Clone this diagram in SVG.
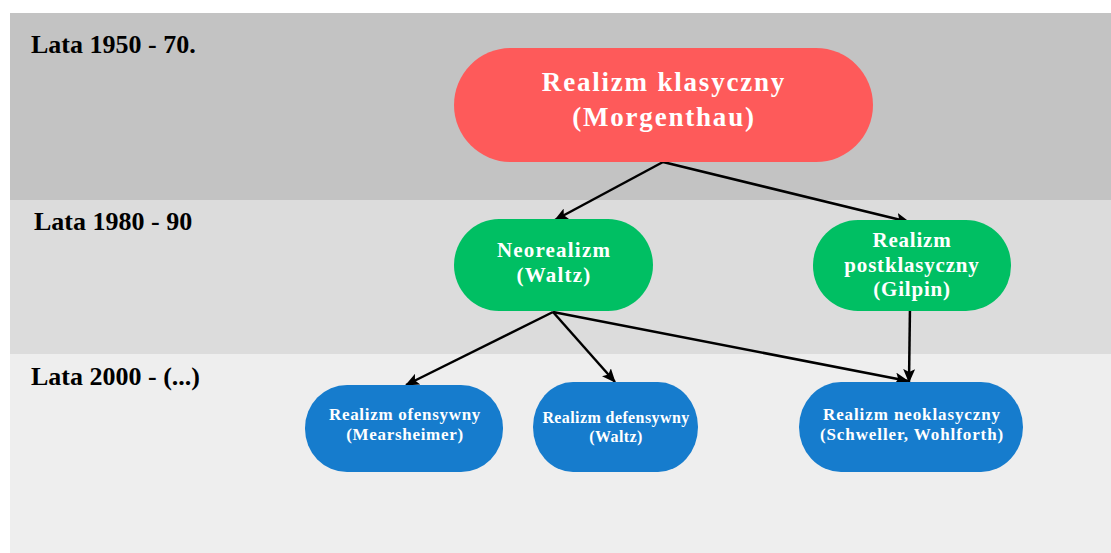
<svg xmlns="http://www.w3.org/2000/svg" width="1111" height="553" viewBox="0 0 1111 553">
<style>
.lbl{font-family:"Liberation Serif","Times New Roman",serif;font-weight:bold;font-size:26px;fill:#000}
.t{font-family:"Liberation Serif","Times New Roman",serif;font-weight:bold;fill:#fff;text-anchor:middle}
.red{fill:#fe5a5a}
.green{fill:#00bf63}
.blue{fill:#167ccd}
.conn{stroke:#000;stroke-width:2.5;fill:none;marker-end:url(#ah)}
</style>
<defs>
<marker id="ah" markerUnits="userSpaceOnUse" markerWidth="14" markerHeight="12" viewBox="0 0 14 12" refX="13" refY="6" orient="auto">
<path d="M0,0 L14,6 L0,12 L3,6 Z" fill="#000"/>
</marker>
</defs>
<rect width="1111" height="553" fill="#fff"/>
<g id="bands">
<rect x="10" y="13" width="1101" height="187" fill="#c3c3c3"/>
<rect x="10" y="200" width="1101" height="154" fill="#dcdcdc"/>
<rect x="10" y="354" width="1101" height="199" fill="#eeeeee"/>
<text class="lbl" x="31" y="53">Lata 1950 - 70.</text>
<text class="lbl" x="34" y="230">Lata 1980 - 90</text>
<text class="lbl" x="31" y="385">Lata 2000 - (...)</text>
</g>
<g id="connectors">
<line class="conn" x1="663" y1="162" x2="555" y2="220"/>
<line class="conn" x1="663" y1="162" x2="909" y2="222"/>
<line class="conn" x1="553" y1="312" x2="406" y2="385"/>
<line class="conn" x1="553" y1="312" x2="615" y2="382"/>
<line class="conn" x1="553" y1="312" x2="908" y2="381"/>
<line class="conn" x1="910" y1="306" x2="909" y2="382"/>
</g>
<g id="realizm-klasyczny">
<rect class="red" x="454" y="48" width="419" height="114" rx="57" ry="57"/>
<text class="t" font-size="27" letter-spacing="1.8" x="664" y="91">Realizm klasyczny</text>
<text class="t" font-size="27" letter-spacing="1.8" x="664" y="126">(Morgenthau)</text>
</g>
<g id="neorealizm">
<rect class="green" x="454" y="219" width="199" height="92" rx="45" ry="46"/>
<text class="t" font-size="21" letter-spacing="1.2" x="554" y="257">Neorealizm</text>
<text class="t" font-size="21" letter-spacing="1.2" x="554" y="282">(Waltz)</text>
</g>
<g id="realizm-postklasyczny">
<rect class="green" x="813" y="220" width="198" height="91" rx="45" ry="45"/>
<text class="t" font-size="21" letter-spacing="0.8" x="912" y="247">Realizm</text>
<text class="t" font-size="21" letter-spacing="0.8" x="912" y="272">postklasyczny</text>
<text class="t" font-size="21" letter-spacing="0.8" x="912" y="296">(Gilpin)</text>
</g>
<g id="realizm-ofensywny">
<rect class="blue" x="305" y="385" width="198" height="87" rx="42" ry="43"/>
<text class="t" font-size="17" letter-spacing="0.7" x="405" y="420">Realizm ofensywny</text>
<text class="t" font-size="17" letter-spacing="0.7" x="405" y="440">(Mearsheimer)</text>
</g>
<g id="realizm-defensywny">
<rect class="blue" x="533" y="382" width="165" height="90" rx="40" ry="45"/>
<text class="t" font-size="16" letter-spacing="0.4" x="616" y="423">Realizm defensywny</text>
<text class="t" font-size="16" letter-spacing="0.4" x="616" y="442">(Waltz)</text>
</g>
<g id="realizm-neoklasyczny">
<rect class="blue" x="799" y="382" width="224" height="90" rx="42" ry="45"/>
<text class="t" font-size="17" letter-spacing="0.9" x="912" y="420">Realizm neoklasyczny</text>
<text class="t" font-size="17" letter-spacing="0.9" x="912" y="440">(Schweller, Wohlforth)</text>
</g>
</svg>
